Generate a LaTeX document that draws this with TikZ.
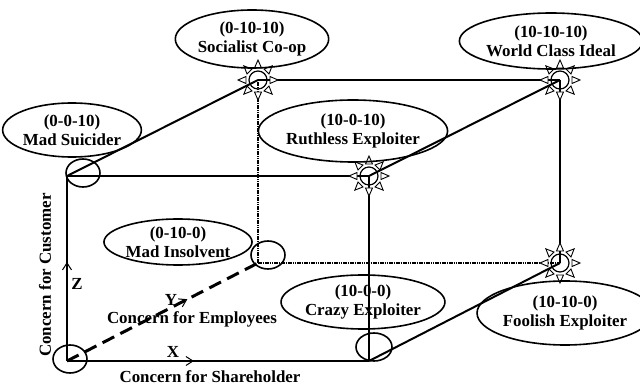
\documentclass[tikz,border=0pt]{standalone}
\usepackage{fontspec}
\setmainfont{Liberation Serif}
\usetikzlibrary{shapes.geometric,decorations.markings,arrows.meta}
\begin{document}
\begin{tikzpicture}[x=1pt,y=-1pt,
  every node/.style={font=\bfseries\fontsize{16.9}{19}\selectfont, align=center},
  lab/.style={draw, ellipse, line width=1.6pt, inner sep=0pt},
  vcirc/.style={draw, ellipse, line width=1.6pt, minimum width=34pt, minimum height=28pt, inner sep=0pt},
  edge/.style={line width=2pt},
  dotline/.style={line width=2.2pt, dash pattern=on 1.6pt off 0.7pt},
  sun/.pic={
    \draw[line width=1.2pt] (0,0) circle (9pt);
    \foreach \a in {0,45,...,315}{
      \draw[line width=0.9pt, fill=white, rotate=\a] (12pt,-3.5pt) -- (20pt,0pt) -- (12pt,3.5pt) -- cycle;
    }
  }
]
\useasboundingbox (0,0) rectangle (640,387);

% cube vertices
\coordinate (O) at (67,361);
\coordinate (X) at (369,361);
\coordinate (Z) at (67,176);
\coordinate (XZ) at (369,176);
\coordinate (Y) at (258,263);
\coordinate (YZ) at (258,80);
\coordinate (XYZ) at (560,80);
\coordinate (XY) at (560,263);

% hidden edges
\draw[line width=3pt, dash pattern=on 13pt off 7pt,
  postaction={decorate, decoration={markings, mark=at position 0.63 with {\arrow[line width=1pt]{Straight Barb[length=7pt,width=9pt]}}}}] (O) -- (Y);
\draw[dotline] (Y) -- (YZ);
\draw[dotline] (Y) -- (XY);

% axes
\draw[edge, postaction={decorate, decoration={markings, mark=at position 0.42 with {\arrow[line width=1pt]{Straight Barb[length=7pt,width=9pt]}}}}] (O) -- (X);
\draw[edge, postaction={decorate, decoration={markings, mark=at position 0.535 with {\arrow[line width=1pt]{Straight Barb[length=7pt,width=9pt]}}}}] (O) -- (Z);

% visible edges
\draw[edge] (Z) -- (XZ);
\draw[edge] (Z) -- (YZ);
\draw[edge] (YZ) -- (XYZ);
\draw[edge] (XZ) -- (XYZ);
\draw[edge] (X) -- (XZ);
\draw[edge] (X) -- (XY);
\draw[edge] (XYZ) -- (XY);

% suns
\pic at (YZ) {sun};
\pic at (XYZ) {sun};
\pic at (XZ) {sun};
\pic at (XY) {sun};

% vertex circles
\node[vcirc] (cO) at (70,359) {};
\node[vcirc] (cZ) at (83,173) {};
\node[vcirc] (cY) at (268,255) {};
\node[vcirc, minimum width=36pt] (cX) at (374,347) {};

% label ellipses
\node[lab, minimum width=132pt, minimum height=58pt] (soc) at (252,39) {(0-10-10)\\Socialist Co-op};
\node[lab, minimum width=130pt, minimum height=54pt] (mads) at (72,130) {(0-0-10)\\Mad Suicider};
\node[lab, minimum width=173pt, minimum height=56pt] (world) at (551,41) {(10-10-10)\\World Class Ideal};
\node[lab, minimum width=150pt, minimum height=62pt] (ruth) at (353,131) {(10-0-10)\\Ruthless Exploiter};
\node[lab, minimum width=130pt, minimum height=46pt] (madi) at (178,242) {(0-10-0)\\Mad Insolvent};
\node[lab, minimum width=130pt, minimum height=54pt] (crazy) at (363,302) {(10-0-0)\\Crazy Exploiter};
\node[lab, minimum width=148pt, minimum height=64pt] (fool) at (565,313) {(10-10-0)\\Foolish Exploiter};

% axis labels
\node (lx) at (173,352) {X};
\node (ly) at (171,300) {Y};
\node (lz) at (77,284) {Z};
\node (ax) at (210,377) {Concern for Shareholder};
\node (ay) at (192,319) {Concern for Employees};
\node[rotate=90] (az) at (45,275) {Concern for Customer};
\end{tikzpicture}
\end{document}
